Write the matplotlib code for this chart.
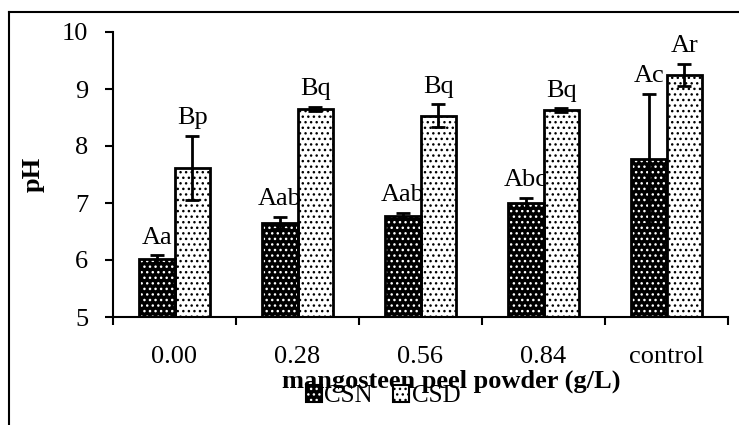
import numpy as np
import matplotlib
matplotlib.use("Agg")
import matplotlib.pyplot as plt
from matplotlib.lines import Line2D
from matplotlib.patches import Patch
from matplotlib.legend_handler import HandlerTuple

plt.rcParams["font.family"] = ["Liberation Serif", "DejaVu Serif"]
plt.rcParams["hatch.linewidth"] = 1.0

categories = ["0.00", "0.28", "0.56", "0.84", "control"]
csn = [6.01, 6.65, 6.77, 7.00, 7.77]
csn_err = [0.07, 0.10, 0.05, 0.09, 1.14]
csd = [7.62, 8.65, 8.53, 8.63, 9.25]
csd_err = [0.56, 0.04, 0.20, 0.03, 0.19]
csn_letters = ["Aa", "Aab", "Aab", "Abc", "Ac"]
csd_letters = ["Bp", "Bq", "Bq", "Bq", "Ar"]

W, H = 739, 425
fig = plt.figure(figsize=(W / 100, H / 100), dpi=100)
ax = fig.add_axes([113 / W, 1 - 317 / H, (728 - 113) / W, (317 - 32) / H])

x = np.arange(len(categories))
bw = 0.29
FS = 19


def dotted_bars(xpos, vals, face, dots):
    # fill with dot hatch, then a plain black outline on top
    ax.bar(xpos, vals, bw, color=face, edgecolor=dots, hatch="...", lw=0, zorder=2)
    ax.bar(xpos, vals, bw, facecolor="none", edgecolor="black", lw=2, zorder=3)


dotted_bars(x - bw / 2, csn, "black", "white")
dotted_bars(x + bw / 2, csd, "white", "black")

for xs, vals, errs, labs in [(x - bw / 2, csn, csn_err, csn_letters),
                             (x + bw / 2, csd, csd_err, csd_letters)]:
    ax.errorbar(xs, vals, yerr=errs, fmt="none", ecolor="black",
                elinewidth=2, capsize=5, capthick=2, zorder=4)
    for xi, v, e, t in zip(xs, vals, errs, labs):
        ax.annotate(t, (xi, v + e), textcoords="offset points", xytext=(0, 8.5),
                    ha="center", va="baseline", fontsize=FS, zorder=5)

ax.set_xlim(-0.5, 4.5)
ax.set_ylim(5, 10)
ax.set_yticks(range(5, 11))
ax.set_xticks(np.arange(-0.5, 5), labels=[])
ax.set_xticks(x, labels=categories, minor=True)
ax.tick_params(axis="y", length=6, width=1.5, labelsize=FS, pad=12)
ax.tick_params(axis="x", which="major", length=6, width=1.5)
ax.tick_params(axis="x", which="minor", length=0, labelsize=FS, pad=21)
for s in ["top", "right"]:
    ax.spines[s].set_visible(False)
for s in ["left", "bottom"]:
    ax.spines[s].set_linewidth(1.5)

ax.set_ylabel("pH", fontsize=FS, fontweight="bold", labelpad=12)

fig.text(451 / W, 1 - 388 / H, "mangosteen peel powder (g/L)", fontsize=FS,
         fontweight="bold", ha="center", va="baseline")

h_csn = (Patch(facecolor="black", edgecolor="white", hatch="...", lw=0),
         Patch(facecolor="none", edgecolor="black", lw=1.5))
h_csd = (Patch(facecolor="white", edgecolor="black", hatch="...", lw=0),
         Patch(facecolor="none", edgecolor="black", lw=1.5))
fig.legend([h_csn, h_csd], ["CSN", "CSD"], loc="center",
           bbox_to_anchor=(383 / W, 1 - 396 / H), ncol=2, frameon=False,
           fontsize=18, handlelength=0.65, handleheight=0.7, handletextpad=0.1,
           columnspacing=0.8, borderpad=0,
           handler_map={tuple: HandlerTuple(ndivide=1, pad=0)})

# outer chart-area border (only top and left visible in the crop)
fig.add_artist(Line2D([9 / W, 1], [1 - 12 / H] * 2, transform=fig.transFigure,
                      color="black", lw=1.5))
fig.add_artist(Line2D([9 / W] * 2, [0, 1 - 12 / H], transform=fig.transFigure,
                      color="black", lw=1.5))

fig.savefig("out.png", dpi=100)
